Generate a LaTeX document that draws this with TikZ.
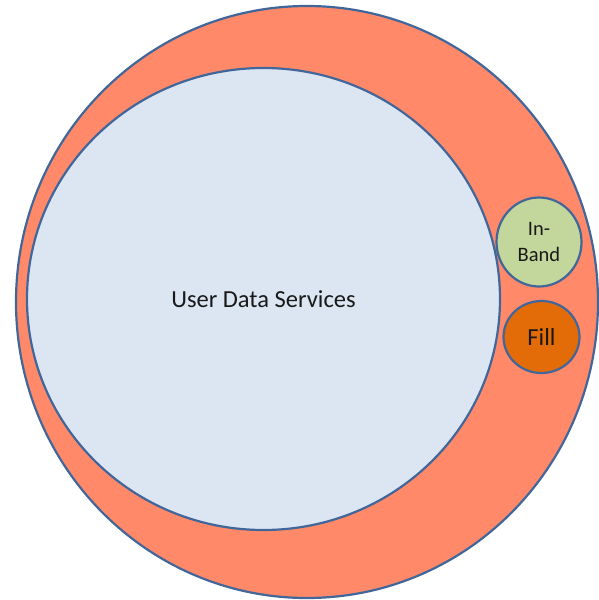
\documentclass[tikz,border=0pt]{standalone}
\usepackage{fontspec}
\setmainfont{Carlito}
\usetikzlibrary{shapes.geometric}
\usetikzlibrary{positioning}
\definecolor{rimblue}{HTML}{41679A}
\definecolor{salmon}{HTML}{FF8969}
\definecolor{userblue}{HTML}{DCE6F2}
\definecolor{bandgreen}{HTML}{C3D69B}
\definecolor{fillorange}{HTML}{E36C09}
\tikzstyle{ring} = [ellipse, inner sep=0pt, line width=2.2pt, draw=rimblue, text centered, text=black!90]

\begin{document}
\begin{tikzpicture}[x=1pt, y=-1pt, node distance=1pt]
\useasboundingbox (0,0) rectangle (598,600);

 \node (outer) [ring, fill=salmon, minimum width=582pt, minimum height=592pt] at (307,302) {};
 \node (users) [ring, fill=userblue, minimum width=473pt, minimum height=462pt,
   font=\fontsize{24.5}{28}\selectfont] at (263.5,299) {User Data Services};
 \node (inband) [ring, fill=bandgreen, minimum width=85pt, minimum height=89pt, align=center,
   font=\fontsize{20.5}{26}\selectfont] at (539,242) {In-\\Band};
 \node (fill) [ring, fill=fillorange, minimum width=76pt, minimum height=72pt,
   font=\fontsize{24.5}{28}\selectfont] at (541.5,337) {Fill};
\end{tikzpicture}
\end{document}
